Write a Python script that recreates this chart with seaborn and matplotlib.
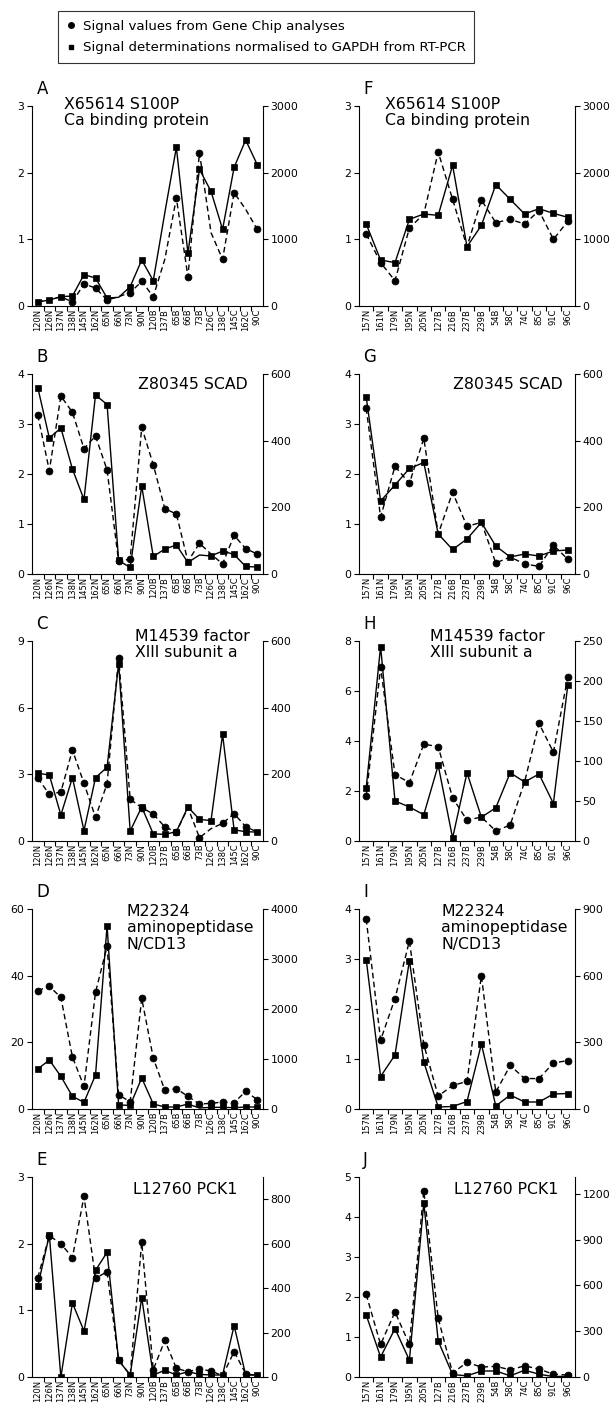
import matplotlib
matplotlib.use("Agg")
import matplotlib.pyplot as plt
import seaborn as sns
import pandas as pd
import numpy as np
from matplotlib.lines import Line2D

sns.set_style("ticks")
plt.rcParams["font.family"] = ["DejaVu Sans"]
plt.rcParams.update({"text.color": "black", "axes.edgecolor": "black",
                     "xtick.color": "black", "ytick.color": "black",
                     "axes.labelcolor": "black"})

# sample labels
samples_left = ["120N", "126N", "137N", "138N", "145N", "162N", "65N", "66N", "73N", "90N",
                "120B", "137B", "65B", "66B", "73B", "126C", "138C", "145C", "162C", "90C"]
samples_right = ["157N", "161N", "179N", "195N", "205N", "127B", "216B", "237B", "239B", "54B",
                 "58C", "74C", "85C", "91C", "96C"]

# RT-PCR normalised to GAPDH (left axis), Gene Chip signal values (right axis)
a_pcr = [0.06, 0.09, 0.14, 0.15, 0.47, 0.42, 0.12, 0.13, 0.29, 0.69,
         0.38, 1.4, 2.38, 0.79, 2.05, 1.72, 1.15, 2.08, 2.49, 2.12]
a_chip = [60, 90, 140, 60, 330, 270, 90, 140, 200, 370,
          140, 700, 1620, 440, 2300, 1100, 700, 1700, 1450, 1150]

b_pcr = [3.73, 2.72, 2.92, 2.1, 1.49, 3.58, 3.39, 0.27, 0.13, 1.76,
         0.35, 0.5, 0.58, 0.23, 0.38, 0.36, 0.46, 0.39, 0.15, 0.14]
b_chip = [477, 310, 534, 485, 376, 414, 312, 38, 45, 440,
          328, 196, 180, 38, 92, 60, 30, 116, 76, 60]

c_pcr = [3.05, 2.97, 1.17, 2.85, 0.47, 2.85, 3.32, 7.98, 0.45, 1.53,
         0.32, 0.3, 0.42, 1.53, 0.97, 0.92, 4.8, 0.5, 0.42, 0.4]
c_chip = [189, 140, 147, 273, 173, 71, 172, 550, 125, 100,
          81, 42, 27, 100, 10, 37, 53, 82, 43, 27]

d_pcr = [12, 14.7, 9.8, 3.8, 2.0, 10.2, 55, 1.2, 1.1, 9.3,
         1.5, 0.6, 0.6, 1.5, 0.3, 0.5, 0.5, 0.4, 0.6, 0.6]
d_chip = [2367, 2453, 2233, 1040, 453, 2333, 3253, 280, 147, 2213,
          1020, 373, 407, 253, 100, 113, 140, 127, 353, 187]

e_pcr = [1.36, 2.13, 0.0, 1.11, 0.69, 1.6, 1.87, 0.25, 0.03, 1.19,
         0.03, 0.1, 0.03, 0.08, 0.04, 0.03, 0.03, 0.77, 0.03, 0.03]
e_chip = [447, 636, 600, 537, 813, 444, 474, 75, 9, 606,
          33, 165, 39, 24, 36, 27, 6, 114, 15, 6]

f_pcr = [1.23, 0.69, 0.65, 1.3, 1.38, 1.36, 2.11, 0.89, 1.21, 1.82,
         1.6, 1.38, 1.46, 1.39, 1.33]
f_chip = [1080, 650, 380, 1170, 1380, 2310, 1600, 890, 1590, 1250,
          1300, 1230, 1430, 1000, 1270]

g_pcr = [3.54, 1.46, 1.78, 2.11, 2.23, 0.8, 0.49, 0.7, 1.03, 0.56,
         0.34, 0.4, 0.36, 0.46, 0.48]
g_chip = [497, 171, 323, 272, 407, 120, 245, 143, 155, 33,
          51, 30, 23, 87, 44]

h_pcr = [2.13, 7.78, 1.6, 1.36, 1.05, 3.03, 0.12, 2.73, 0.95, 1.33,
         2.73, 2.36, 2.68, 1.5, 6.24]
h_chip = [56, 217, 83, 73, 121, 118, 54, 26, 30, 12.5,
          20, 74, 147, 111, 205]

i_pcr = [2.99, 0.65, 1.08, 2.97, 0.94, 0.04, 0.05, 0.15, 1.3, 0.06,
         0.28, 0.14, 0.14, 0.3, 0.31]
i_chip = [855, 310, 497, 756, 290, 58, 106, 124, 600, 76,
          196, 137, 137, 207, 218]

j_pcr = [1.55, 0.5, 1.21, 0.42, 4.35, 0.9, 0.06, 0.03, 0.15, 0.15,
         0.03, 0.17, 0.07, 0.01, 0.02]
j_chip = [541, 213, 426, 213, 1219, 385, 26, 96, 65, 70,
          47, 73, 52, 18, 13]

panels = [
    dict(letter="A", name="X65614 S100P\nCa binding protein", x=samples_left, pcr=a_pcr, chip=a_chip,
         lmax=3, rmax=3000, lt=[0, 1, 2, 3], rt=[0, 1000, 2000, 3000],
         no_sq=[7, 11], no_ci=[0, 1, 2, 7, 11, 15, 18], col=0, row=0, tx=0.14, ty=1.045, ha="left"),
    dict(letter="B", name="Z80345 SCAD", x=samples_left, pcr=b_pcr, chip=b_chip,
         lmax=4, rmax=600, lt=[0, 1, 2, 3, 4], rt=[0, 200, 400, 600],
         no_sq=[14], no_ci=[13, 15], col=0, row=1, tx=0.935, ty=0.985, ha="right"),
    dict(letter="C", name="M14539 factor\nXIII subunit a", x=samples_left, pcr=c_pcr, chip=c_chip,
         lmax=9, rmax=600, lt=[0, 3, 6, 9], rt=[0, 200, 400, 600],
         no_sq=[], no_ci=[13, 15, 19], col=0, row=2, tx=0.445, ty=1.06, ha="left"),
    dict(letter="D", name="M22324\naminopeptidase\nN/CD13", x=samples_left, pcr=d_pcr, chip=d_chip,
         lmax=60, rmax=4000, lt=[0, 20, 40, 60], rt=[0, 1000, 2000, 3000, 4000],
         no_sq=[14], no_ci=[], col=0, row=3, tx=0.41, ty=1.025, ha="left"),
    dict(letter="E", name="L12760 PCK1", x=samples_left, pcr=e_pcr, chip=e_chip,
         lmax=3, rmax=900, lt=[0, 1, 2, 3], rt=[0, 200, 400, 600, 800],
         no_sq=[13], no_ci=[8, 16, 19], col=0, row=4, tx=0.89, ty=0.975, ha="right"),
    dict(letter="F", name="X65614 S100P\nCa binding protein", x=samples_right, pcr=f_pcr, chip=f_chip,
         lmax=3, rmax=3000, lt=[0, 1, 2, 3], rt=[0, 1000, 2000, 3000],
         no_sq=[], no_ci=[4, 7], col=1, row=0, tx=0.12, ty=1.045, ha="left"),
    dict(letter="G", name="Z80345 SCAD", x=samples_right, pcr=g_pcr, chip=g_chip,
         lmax=4, rmax=600, lt=[0, 1, 2, 3, 4], rt=[0, 200, 400, 600],
         no_sq=[], no_ci=[5, 8, 10], col=1, row=1, tx=0.945, ty=0.985, ha="right"),
    dict(letter="H", name="M14539 factor\nXIII subunit a", x=samples_right, pcr=h_pcr, chip=h_chip,
         lmax=8, rmax=250, lt=[0, 2, 4, 6, 8], rt=[0, 50, 100, 150, 200, 250],
         no_sq=[], no_ci=[8, 11], col=1, row=2, tx=0.33, ty=1.06, ha="left"),
    dict(letter="I", name="M22324\naminopeptidase\nN/CD13", x=samples_right, pcr=i_pcr, chip=i_chip,
         lmax=4, rmax=900, lt=[0, 1, 2, 3, 4], rt=[0, 300, 600, 900],
         no_sq=[], no_ci=[], col=1, row=3, tx=0.38, ty=1.025, ha="left"),
    dict(letter="J", name="L12760 PCK1", x=samples_right, pcr=j_pcr, chip=j_chip,
         lmax=5, rmax=1310, lt=[0, 1, 2, 3, 4, 5], rt=[0, 300, 600, 900, 1200],
         no_sq=[], no_ci=[], col=1, row=4, tx=0.925, ty=0.975, ha="right"),
]

W, H = 610, 1407
fig = plt.figure(figsize=(W / 100, H / 100), dpi=100)

col_left = [32, 359]
col_width = [231, 216]
row_top = [106, 374, 641, 909, 1177]
ax_h = 200

for p in panels:
    l = col_left[p["col"]]
    w = col_width[p["col"]]
    t = row_top[p["row"]]
    ax = fig.add_axes([l / W, 1 - (t + ax_h) / H, w / W, ax_h / H])
    ax2 = ax.twinx()
    n = len(p["x"])
    df = pd.DataFrame({"pos": np.arange(n), "pcr": p["pcr"], "chip": p["chip"]})

    sns.lineplot(data=df, x="pos", y="pcr", ax=ax, color="black", linewidth=1.0,
                 marker="s", markersize=4.4, mec="black", mew=0.5,
                 markevery=[i for i in range(n) if i not in p["no_sq"]])
    sns.lineplot(data=df, x="pos", y="chip", ax=ax2, color="black", linewidth=1.0,
                 linestyle=(0, (4, 2.5)), marker="o", markersize=5, mec="black", mew=0.5,
                 markevery=[i for i in range(n) if i not in p["no_ci"]])

    ax.set_xlim(-0.5, n - 0.5)
    ax.set_ylim(0, p["lmax"])
    ax2.set_ylim(0, p["rmax"])
    ax.set_yticks(p["lt"])
    ax2.set_yticks(p["rt"])
    ax.set_xticks(np.arange(n))
    ax.set_xticklabels(p["x"], rotation=90, fontsize=6)
    ax.set_xticks(np.arange(n - 1) + 0.5, minor=True)
    ax.tick_params(axis="x", which="major", length=0, pad=2)
    ax.tick_params(axis="x", which="minor", length=3.5, width=0.8, direction="out")
    ax.tick_params(axis="y", labelsize=7.8, length=3.5, width=0.8, pad=2)
    ax2.tick_params(axis="y", labelsize=7.8, length=3.5, width=0.8, pad=2)
    ax.set_xlabel("")
    ax.set_ylabel("")
    ax2.set_ylabel("")

    for s in ["top", "right"]:
        ax.spines[s].set_visible(False)
    for s in ["top", "left", "bottom"]:
        ax2.spines[s].set_visible(False)
    for a in (ax, ax2):
        for s in a.spines.values():
            s.set_linewidth(0.8)

    ax.text(0.02, 1.04, p["letter"], transform=ax.transAxes, fontsize=12,
            ha="left", va="bottom")
    ax.text(p["tx"], p["ty"], p["name"], transform=ax.transAxes, fontsize=11.3,
            ha=p["ha"], va="top", linespacing=1.12)

handles = [
    Line2D([], [], marker="o", linestyle="none", color="black", markersize=4),
    Line2D([], [], marker="s", linestyle="none", color="black", markersize=3.5),
]
leg = fig.legend(handles, ["Signal values from Gene Chip analyses",
                           "Signal determinations normalised to GAPDH from RT-PCR"],
                 loc="upper center", bbox_to_anchor=(0.436, 0.997), frameon=True,
                 fancybox=False, edgecolor="black", fontsize=9.6, handlelength=0.7,
                 handletextpad=0.5, borderpad=0.65, labelspacing=0.65)
leg.get_frame().set_linewidth(0.8)

fig.savefig("out.png", dpi=100)
